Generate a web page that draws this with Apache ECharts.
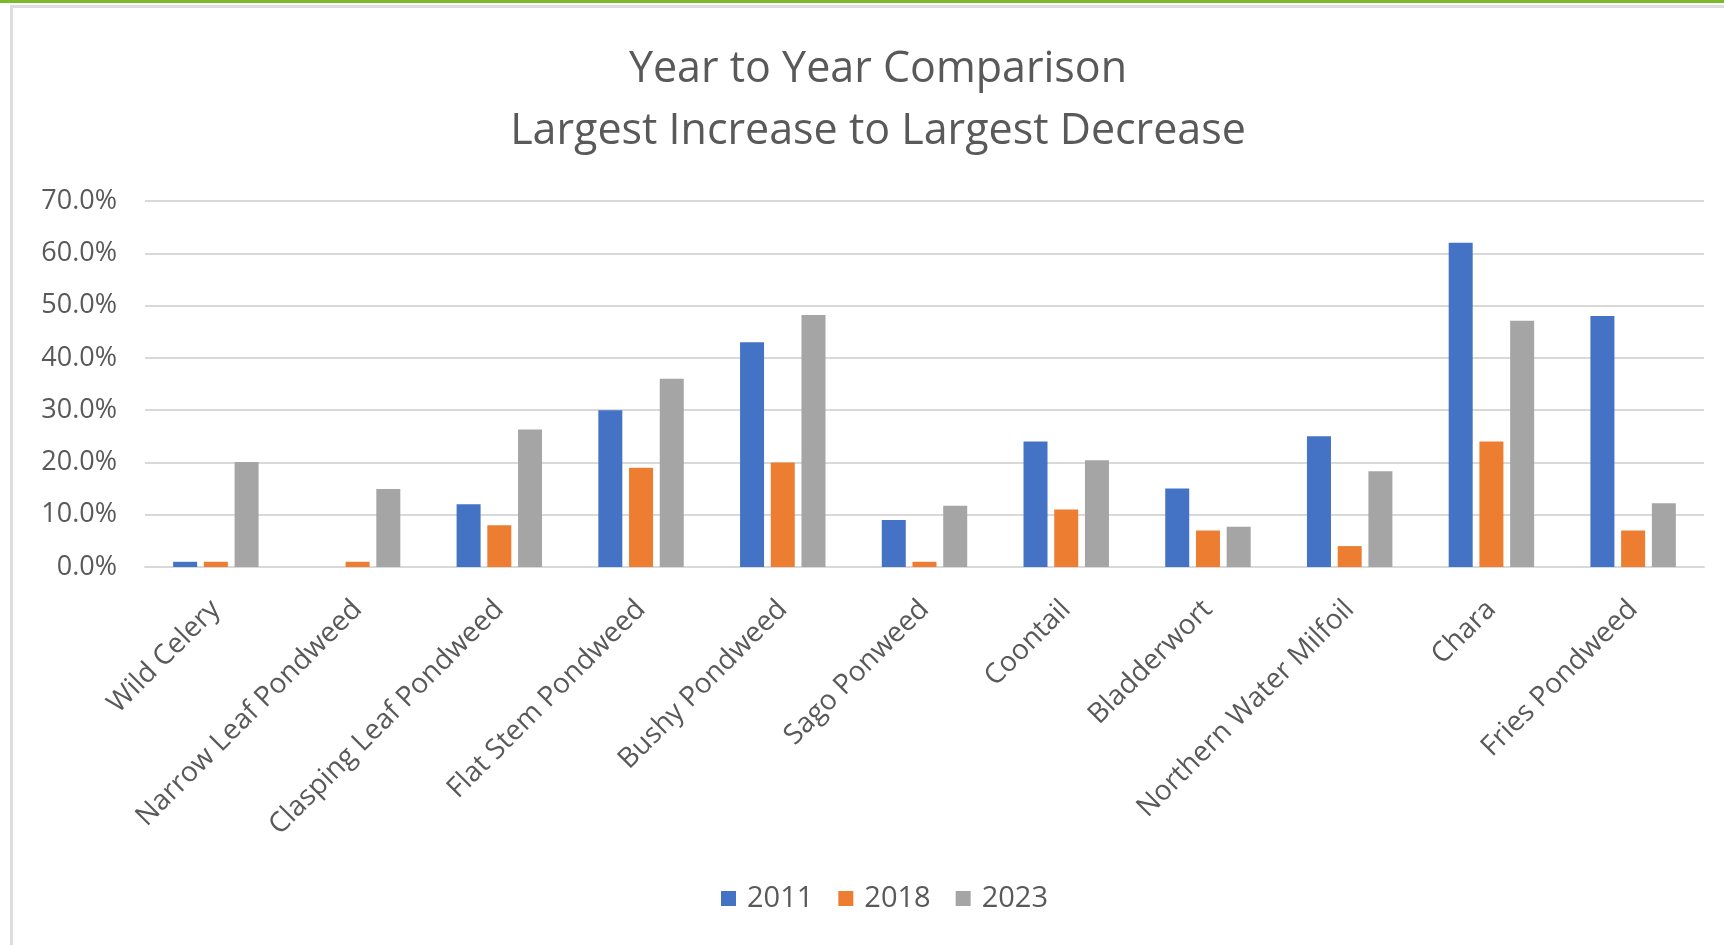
<!DOCTYPE html>
<html>
<head>
<meta charset="utf-8">
<script src="https://cdn.jsdelivr.net/npm/echarts@6/dist/echarts.min.js"></script>
<style>
  html, body { margin: 0; padding: 0; background: #ffffff; }
  #topbar { position: absolute; left: 0; top: 0; width: 1724px; height: 3px; background: #7ab929; }
  #frame { position: absolute; left: 10px; top: 5px; width: 1714px; height: 940px;
           border-left: 3px solid #dedede; border-top: 3px solid #dedede; box-sizing: border-box; }
  #chart { position: absolute; left: 0; top: 0; width: 1724px; height: 945px; }
</style>
</head>
<body>
<div id="topbar"></div>
<div id="frame"></div>
<div id="chart"></div>
<script>
const categories = ['Wild Celery', 'Narrow Leaf Pondweed', 'Clasping Leaf Pondweed', 'Flat Stem Pondweed',
  'Bushy Pondweed', 'Sago Ponweed', 'Coontail', 'Bladderwort', 'Northern Water Milfoil', 'Chara', 'Fries Pondweed'];
const seriesNames = ['2011', '2018', '2023'];
const values2011 = [1, 0, 12, 30, 43, 9, 24, 15, 25, 62, 48];
const values2018 = [1, 1, 8, 19, 20, 1, 11, 7, 4, 24, 7];
const values2023 = [20.1, 14.9, 26.3, 36.0, 48.2, 11.7, 20.4, 7.7, 18.3, 47.1, 12.2];
const titleLines = ['Year to Year Comparison', 'Largest Increase to Largest Decrease'];
const colors = ['#4472c4', '#ed7d31', '#a5a5a5'];

const chart = echarts.init(document.getElementById('chart'));
const font = '"Open Sans", "Liberation Sans", sans-serif';
const allValues = [values2011, values2018, values2023];
chart.setOption({
  animation: false,
  backgroundColor: 'transparent',
  color: colors,
  title: {
    text: titleLines.join('\n'),
    left: 873,
    textAlign: 'center',
    top: 34,
    textStyle: { fontFamily: font, fontSize: 43, fontWeight: 'normal', color: '#595959', lineHeight: 62 }
  },
  legend: {
    bottom: 27,
    left: 716,
    itemWidth: 15,
    itemHeight: 15,
    itemGap: 25,
    icon: 'rect',
    textStyle: { fontFamily: font, fontSize: 29, color: '#595959', padding: [0, 0, 0, 6] },
    data: seriesNames
  },
  grid: { left: 145, right: 20, top: 201, bottom: 378, containLabel: false },
  xAxis: {
    type: 'category',
    data: categories,
    axisTick: { show: false },
    axisLine: { lineStyle: { color: '#d9d9d9', width: 2 } },
    axisLabel: { rotate: 45, margin: 38, interval: 0, fontFamily: font, fontSize: 28, color: '#595959' }
  },
  yAxis: {
    type: 'value',
    min: 0, max: 70, interval: 10,
    axisLine: { show: false },
    axisTick: { show: false },
    splitLine: { lineStyle: { color: '#d9d9d9', width: 2 } },
    axisLabel: { margin: 28, fontFamily: font, fontSize: 27, color: '#595959',
      formatter: v => v.toFixed(1) + '%' }
  },
  series: seriesNames.map((name, i) => ({
    name: name,
    type: 'bar',
    data: allValues[i],
    barWidth: 24,
    barGap: '28%'
  }))
});
</script>
</body>
</html>
